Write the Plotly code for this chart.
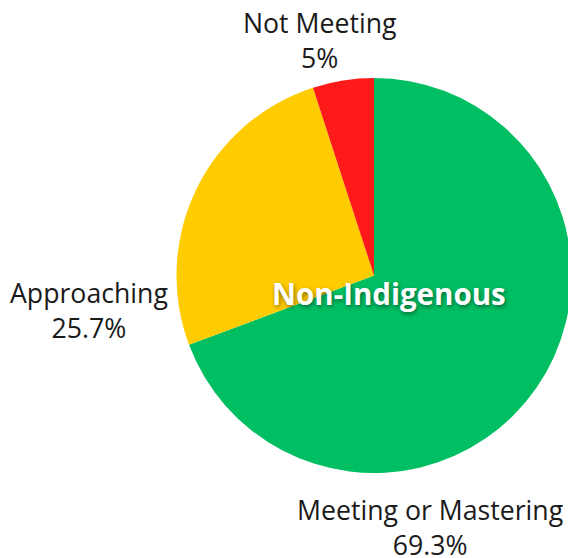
import plotly.graph_objects as go

# slices, clockwise from 12 o'clock
labels = ["Meeting or Mastering", "Approaching", "Not Meeting"]
values = [69.3, 25.7, 5.0]
colors = ["#00BF63", "#FFCC00", "#FF1A1A"]
center_title = "Non-Indigenous"

# figure is a bit wider than the window so the pie can run off the right edge
W, H = 580, 558
# where each outside label sits (pixels from top-left), same order as labels
label_px = [(429.5, 527), (88.5, 310), (319.5, 40)]
FONT = "Open Sans, DejaVu Sans, sans-serif"

cx, cy, r = 374, 275.5, 197.5

fig = go.Figure(
    go.Pie(
        labels=labels,
        values=values,
        marker=dict(colors=colors, line=dict(width=0)),
        sort=False,
        direction="clockwise",
        rotation=0,
        textinfo="none",
        hoverinfo="label+percent",
        domain=dict(x=[(cx - r) / W, (cx + r) / W], y=[1 - (cy + r) / H, 1 - (cy - r) / H]),
        showlegend=False,
    )
)

total = sum(values)
for lab, val, (px, py) in zip(labels, values, label_px):
    pct = f"{val / total * 100:.1f}".rstrip("0").rstrip(".")
    fig.add_annotation(
        x=px / W, y=1 - py / H, xref="paper", yref="paper",
        text=f"{lab}<br>{pct}%",
        showarrow=False,
        font=dict(family=FONT, size=26.67, color="#1a1a1a"),
        xanchor="center", yanchor="middle",
    )

fig.add_annotation(
    x=389 / W, y=1 - 293 / H, xref="paper", yref="paper",
    text=f"<b>{center_title}</b>",
    showarrow=False,
    font=dict(family=FONT, size=29.5, color="white", shadow="1px 2px 4px rgba(0,0,0,0.45)"),
    xanchor="center", yanchor="middle",
)

fig.update_layout(
    width=W, height=H,
    margin=dict(l=0, r=0, t=0, b=0),
    paper_bgcolor="white",
    plot_bgcolor="white",
)

# drop the browser's default body margin so the figure fills the window
fig.write_html(
    "out.html",
    config={"displayModeBar": False},
    post_script="document.body.style.margin='0';document.body.style.overflow='hidden';",
)
